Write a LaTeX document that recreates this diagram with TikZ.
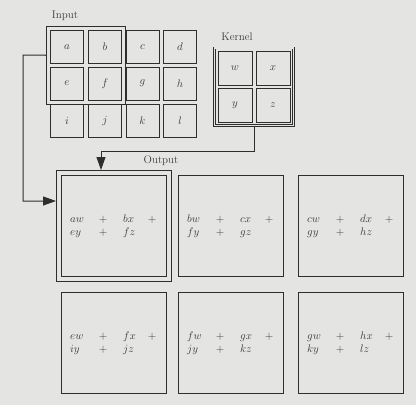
\documentclass[tikz,border=0pt]{standalone}
\usetikzlibrary{arrows.meta,fit}
\definecolor{paper}{HTML}{E4E4E2}
\definecolor{ink}{HTML}{2E2E2E}
\definecolor{txt}{HTML}{3C3C3C}
\newcommand\convline[3]{\makebox[0pt][l]{$#1$}\hspace{33pt}\makebox[0pt]{$+$}\hspace{20pt}\makebox[0pt][l]{$#2$}\hspace{29pt}\makebox[0pt]{#3}}
\begin{document}
\begin{tikzpicture}[x=1pt,y=-1pt,font=\fontsize{11}{13}\selectfont,
  cell/.style={draw=ink,line width=1pt,minimum size=33pt,inner sep=0pt,text=txt},
  kcell/.style={cell,minimum size=34pt},
  outbox/.style={draw=ink,line width=1pt,minimum width=105pt,minimum height=101pt,inner sep=0pt},
  lbl/.style={text=txt,inner sep=0pt},
  conn/.style={draw=ink,line width=1pt},
  tip/.style={-{Triangle[length=13pt,width=9pt]}},
  sums/.style={align=left,inner sep=0pt,anchor=west,text=txt}]
\fill[paper] (0,0) rectangle (416,405);
% input
\node[cell] (a) at (67,47) {$a$};
\node[cell] (b) at (105,47) {$b$};
\node[cell] (c) at (142.5,47) {$c$};
\node[cell] (d) at (180,47) {$d$};
\node[cell] (e) at (67,83.5) {$e$};
\node[cell] (f) at (105,83.5) {$f$};
\node[cell] (g) at (142.5,83.5) {$g$};
\node[cell] (h) at (180,83.5) {$h$};
\node[cell] (i) at (67,120.5) {$i$};
\node[cell] (j) at (105,120.5) {$j$};
\node[cell] (k) at (142.5,120.5) {$k$};
\node[cell] (l) at (180,120.5) {$l$};
\node[fit=(a)(f),draw=ink,line width=1pt,inner sep=3.5pt] (hl) {};
\node[lbl] (inlbl) at (65,16) {Input};
% kernel
\node[kcell] (w) at (235,68.5) {$w$};
\node[kcell] (x) at (273,68.5) {$x$};
\node[kcell] (y) at (235,105) {$y$};
\node[kcell] (z) at (273,105) {$z$};
\node[fit=(w)(z),draw=ink,double=paper,double distance=1.2pt,line width=0.7pt,inner sep=3pt] (kernel) {};
\node[lbl] (klbl) at (237,37) {Kernel};
% output
\node[lbl] (olbl) at (161,161) {Output};
\node[outbox] (o1) at (114,226) {};
\node[outbox] (o2) at (231,226) {};
\node[outbox] (o3) at (351,226) {};
\node[outbox] (o4) at (114,343) {};
\node[outbox] (o5) at (231,343) {};
\node[outbox] (o6) at (351,343) {};
\node[fit=(o1),draw=ink,line width=1pt,inner sep=4.5pt] (o1out) {};
\node[sums] (s1) at ([xshift=9pt]o1.west) {\convline{aw}{bx}{$+$}\\\convline{ey}{fz}{}};
\node[sums] (s2) at ([xshift=9pt]o2.west) {\convline{bw}{cx}{$+$}\\\convline{fy}{gz}{}};
\node[sums] (s3) at ([xshift=9pt]o3.west) {\convline{cw}{dx}{$+$}\\\convline{gy}{hz}{}};
\node[sums] (s4) at ([xshift=9pt]o4.west) {\convline{ew}{fx}{$+$}\\\convline{iy}{jz}{}};
\node[sums] (s5) at ([xshift=9pt]o5.west) {\convline{fw}{gx}{$+$}\\\convline{jy}{kz}{}};
\node[sums] (s6) at ([xshift=9pt]o6.west) {\convline{gw}{hx}{$+$}\\\convline{ky}{lz}{}};
% connectors
\coordinate (k1) at (254,151);
\coordinate (k2) at (101,151);
\draw[conn,tip] (kernel.south) -- (k1) -- (k2) -- (k2 |- o1out.north);
\coordinate (i1) at (23,55);
\coordinate (i2) at (23,201);
\draw[conn,tip] ([yshift=10pt]hl.west) -- (i1) -- (i2) -- (i2 -| o1out.west);
\end{tikzpicture}
\end{document}
